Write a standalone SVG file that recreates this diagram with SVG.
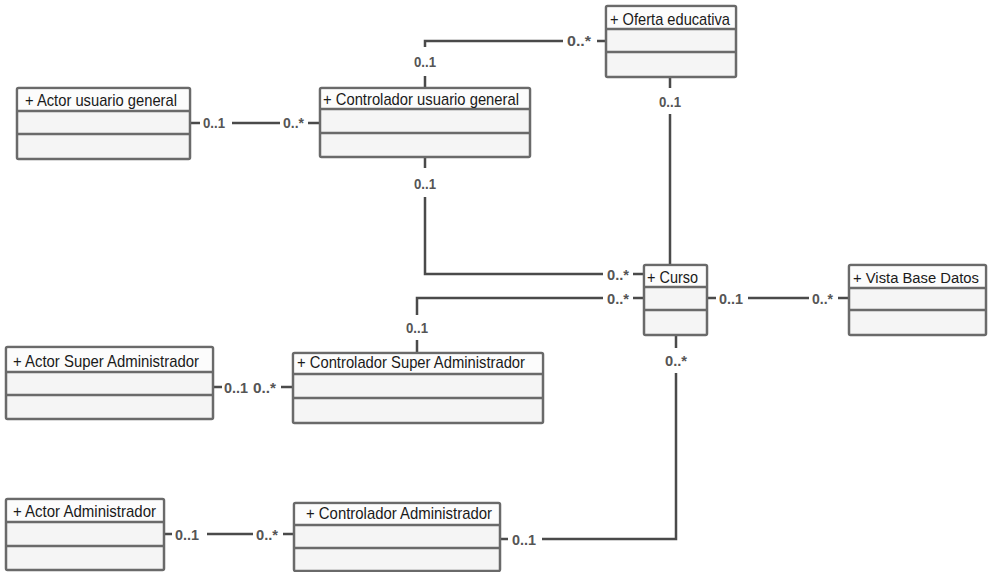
<svg xmlns="http://www.w3.org/2000/svg" width="988" height="572" viewBox="0 0 988 572">
<style>
  .box{fill:#f5f5f5;stroke:#6a6a6a;stroke-width:2.5}
  .hdr{fill:#fcfcfc;stroke:none}
  .div{stroke:#6a6a6a;stroke-width:2.5}
  .name{font-family:"Liberation Sans",Arial,sans-serif;font-size:17px;fill:#1a1a1a}
  .conn{fill:none;stroke:#4a4a4a;stroke-width:2.5}
  .m{font-family:"Liberation Sans",Arial,sans-serif;font-size:15px;font-weight:bold;fill:#555}
</style>
<rect width="988" height="572" fill="#ffffff"/>
<g id="connectors">
  <!-- Actor usuario general - Controlador usuario general -->
  <path class="conn" d="M190 123H200M232 123H280M308 123H320"/>
  <text class="m" x="203" y="128" textLength="22" lengthAdjust="spacingAndGlyphs">0..1</text>
  <text class="m" x="283" y="128" textLength="21" lengthAdjust="spacingAndGlyphs">0..*</text>
  <!-- Controlador usuario general - Oferta educativa -->
  <path class="conn" d="M425 88V76M425 47V41H563M597 41H606"/>
  <text class="m" x="414" y="67" textLength="22" lengthAdjust="spacingAndGlyphs">0..1</text>
  <text class="m" x="567" y="46" textLength="24" lengthAdjust="spacingAndGlyphs">0..*</text>
  <!-- Oferta educativa - Curso -->
  <path class="conn" d="M670 77V88M670 114V265"/>
  <text class="m" x="659" y="107" textLength="22" lengthAdjust="spacingAndGlyphs">0..1</text>
  <!-- Controlador usuario general - Curso -->
  <path class="conn" d="M425 157V168M425 197V274H603M633 274H644"/>
  <text class="m" x="414" y="189" textLength="22" lengthAdjust="spacingAndGlyphs">0..1</text>
  <text class="m" x="607" y="280" textLength="22" lengthAdjust="spacingAndGlyphs">0..*</text>
  <!-- Controlador Super Administrador - Curso -->
  <path class="conn" d="M417 353V340M417 315V298H603M633 298H644"/>
  <text class="m" x="406" y="333" textLength="22" lengthAdjust="spacingAndGlyphs">0..1</text>
  <text class="m" x="607" y="304" textLength="22" lengthAdjust="spacingAndGlyphs">0..*</text>
  <!-- Curso - Vista Base Datos -->
  <path class="conn" d="M707 298H716M748 298H809M838 298H849"/>
  <text class="m" x="719" y="304" textLength="24" lengthAdjust="spacingAndGlyphs">0..1</text>
  <text class="m" x="812" y="304" textLength="21" lengthAdjust="spacingAndGlyphs">0..*</text>
  <!-- Actor Super Administrador - Controlador Super Administrador -->
  <path class="conn" d="M213 387H222M281 387H293"/>
  <text class="m" x="224" y="393" textLength="24" lengthAdjust="spacingAndGlyphs">0..1</text>
  <text class="m" x="253" y="393" textLength="23" lengthAdjust="spacingAndGlyphs">0..*</text>
  <!-- Actor Administrador - Controlador Administrador -->
  <path class="conn" d="M164 534H172M207 534H253M283 534H294"/>
  <text class="m" x="175" y="540" textLength="24" lengthAdjust="spacingAndGlyphs">0..1</text>
  <text class="m" x="256" y="540" textLength="22" lengthAdjust="spacingAndGlyphs">0..*</text>
  <!-- Controlador Administrador - Curso -->
  <path class="conn" d="M500 539H508M542 539H676V373M676 348V335"/>
  <text class="m" x="512" y="545" textLength="24" lengthAdjust="spacingAndGlyphs">0..1</text>
  <text class="m" x="665" y="366" textLength="22" lengthAdjust="spacingAndGlyphs">0..*</text>
</g>
<g id="actor-usuario-general">
  <rect class="box" x="17" y="88" width="173" height="71" rx="1.5"/>
  <rect class="hdr" x="18.5" y="89.5" width="170" height="21"/>
  <path class="div" d="M17 111H190M17 134H190"/>
  <text class="name" x="25" y="106" textLength="152" lengthAdjust="spacingAndGlyphs">+ Actor usuario general</text>
</g>
<g id="controlador-usuario-general">
  <rect class="box" x="320" y="88" width="210" height="69" rx="1.5"/>
  <rect class="hdr" x="321.5" y="89.5" width="207" height="19"/>
  <path class="div" d="M320 109H530M320 133H530"/>
  <text class="name" x="323" y="105" textLength="196" lengthAdjust="spacingAndGlyphs">+ Controlador usuario general</text>
</g>
<g id="oferta-educativa">
  <rect class="box" x="606" y="6" width="130" height="71" rx="1.5"/>
  <rect class="hdr" x="607.5" y="7.5" width="127" height="21"/>
  <path class="div" d="M606 29H736M606 52H736"/>
  <text class="name" x="610" y="25" textLength="120" lengthAdjust="spacingAndGlyphs">+ Oferta educativa</text>
</g>
<g id="curso">
  <rect class="box" x="644" y="265" width="63" height="70" rx="1.5"/>
  <rect class="hdr" x="645.5" y="266.5" width="60" height="20"/>
  <path class="div" d="M644 287H707M644 310H707"/>
  <text class="name" x="647" y="283" textLength="51" lengthAdjust="spacingAndGlyphs">+ Curso</text>
</g>
<g id="vista-base-datos">
  <rect class="box" x="849" y="265" width="137" height="70" rx="1.5"/>
  <rect class="hdr" x="850.5" y="266.5" width="134" height="21"/>
  <path class="div" d="M849 288H986M849 310H986"/>
  <text class="name" x="853" y="283" style="font-size:15.5px" textLength="126" lengthAdjust="spacingAndGlyphs">+ Vista Base Datos</text>
</g>
<g id="actor-super-administrador">
  <rect class="box" x="6" y="347" width="207" height="72" rx="1.5"/>
  <rect class="hdr" x="7.5" y="348.5" width="204" height="23"/>
  <path class="div" d="M6 372H213M6 395H213"/>
  <text class="name" x="13" y="367" textLength="186" lengthAdjust="spacingAndGlyphs">+ Actor Super Administrador</text>
</g>
<g id="controlador-super-administrador">
  <rect class="box" x="293" y="353" width="250" height="70" rx="1.5"/>
  <rect class="hdr" x="294.5" y="354.5" width="247" height="19"/>
  <path class="div" d="M293 374H543M293 398H543"/>
  <text class="name" x="297" y="368" textLength="228" lengthAdjust="spacingAndGlyphs">+ Controlador Super Administrador</text>
</g>
<g id="actor-administrador">
  <rect class="box" x="6" y="499" width="158" height="71" rx="1.5"/>
  <rect class="hdr" x="7.5" y="500.5" width="155" height="21"/>
  <path class="div" d="M6 522H164M6 546H164"/>
  <text class="name" x="13" y="517" textLength="143" lengthAdjust="spacingAndGlyphs">+ Actor Administrador</text>
</g>
<g id="controlador-administrador">
  <rect class="box" x="294" y="503" width="206" height="68" rx="1.5"/>
  <rect class="hdr" x="295.5" y="504.5" width="203" height="20"/>
  <path class="div" d="M294 525H500M294 548H500"/>
  <text class="name" x="306" y="519" textLength="186" lengthAdjust="spacingAndGlyphs">+ Controlador Administrador</text>
</g>
</svg>
